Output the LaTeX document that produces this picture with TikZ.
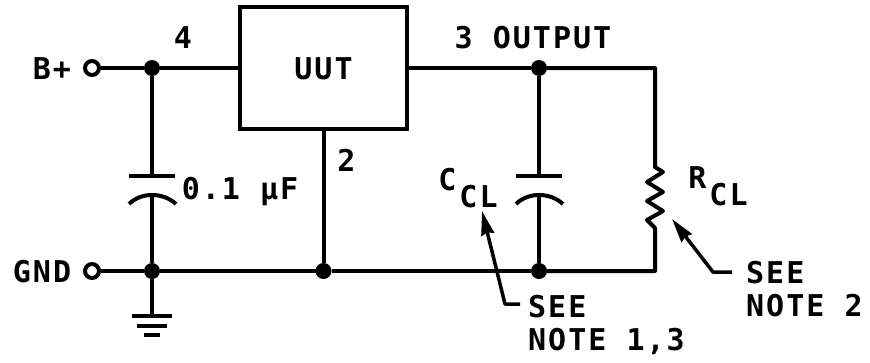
\documentclass[tikz,border=0pt]{standalone}
\usepackage{fontspec}
\setmonofont[LetterSpace=6.7]{DejaVu Sans Mono}
\usetikzlibrary{positioning,arrows.meta}
\tikzset{
  wire/.style={line width=4pt,line join=round},
  pointer/.style={line width=3.5pt,line join=round,-{Stealth[length=24pt,width=13pt,inset=2pt]}},
  term/.style={circle,draw,fill=white,line width=4pt,minimum size=14pt,inner sep=0pt},
  dot/.style={circle,fill=black,minimum size=16pt,inner sep=0pt,outer sep=0pt},
  lbl/.style={font=\fontsize{30pt}{33pt}\selectfont\ttfamily\bfseries,inner sep=0pt,text height=22pt,text depth=0pt},
  sublbl/.style={lbl,text depth=17pt},
  note/.style={font=\fontsize{30pt}{33pt}\selectfont\ttfamily\bfseries,inner sep=0pt,align=left,anchor=north west},
  box/.style={rectangle,draw,line width=4pt,minimum width=167pt,minimum height=122pt,inner sep=0pt}
}
\newcommand{\lowered}[1]{\raisebox{-17pt}{\kern3pt #1}}

\begin{document}
\begin{tikzpicture}[x=1pt,y=-1pt,on grid]
   \useasboundingbox (0,0) rectangle (870,362);
   \node[term] (bplus) at (92,68) {};
   \node[term] (gnd) [below=203pt of bplus] {};
   \node[dot] (j1) [right=60pt of bplus] {};
   \node[dot] (j2) [right=60pt of gnd] {};
   \node[box,lbl] (uut) [right=171.5pt of j1] {UUT};
   \node[dot] (j3) [right=171.5pt of j2] {};
   \node[dot] (j4) [right=215.5pt of uut] {};
   \node[dot] (j5) [right=215.5pt of j3] {};
   \coordinate[right=116pt of j4] (tr);
   \coordinate[right=116pt of j5] (br);
   % capacitors
   \coordinate[below=108pt of j1] (c1a);
   \coordinate[below=125pt of j1] (c1b);
   \coordinate[below=108pt of j4] (c2a);
   \coordinate[below=125pt of j4] (c2b);
   % resistor
   \coordinate[below=99pt of tr] (r1);
   \coordinate[above=43pt of br] (r2);
   % ground
   \coordinate[below=45pt of j2] (g1);
   \coordinate[below=55pt of j2] (g2);
   \coordinate[below=64pt of j2] (g3);
   \path[wire]
    (bplus) edge (j1)
    (j1)    edge (uut)
    (j1)    edge (c1a)
    (c1b)   edge (j2)
    (gnd)   edge (j2)
    (j2)    edge (j3)
    (j3)    edge (j5)
    (j2)    edge (g1)
    (uut)   edge (j3)
    (uut)   edge (j4)
    (j4)    edge (c2a)
    (c2b)   edge (j5)
    ;
   \draw[wire] (j4) -- (tr) -- (r1) -- ++(8,5) -- ++(-16,10) -- ++(16,10) -- ++(-16,9)
     -- ++(16,10) -- ++(-16,9) -- (r2) -- (br) -- (j5);
   \draw[wire] ([xshift=-23pt]c1a) -- ([xshift=23pt]c1a);
   \draw[wire] ([shift={(-23pt,-11pt)}]c1b) .. controls ([shift={(-11pt,1pt)}]c1b) and ([shift={(11pt,1pt)}]c1b) .. ([shift={(24pt,-11pt)}]c1b);
   \draw[wire] ([xshift=-23pt]c2a) -- ([xshift=23pt]c2a);
   \draw[wire] ([shift={(-23pt,-11pt)}]c2b) .. controls ([shift={(-11pt,1pt)}]c2b) and ([shift={(11pt,1pt)}]c2b) .. ([shift={(24pt,-11pt)}]c2b);
   \draw[wire] ([xshift=-20pt]g1) -- ([xshift=20pt]g1);
   \draw[wire] ([xshift=-15pt]g2) -- ([xshift=15pt]g2);
   \draw[wire] ([xshift=-8pt]g3) -- ([xshift=8pt]g3);
   % labels
   \node[lbl] (lbplus) [left=40pt of bplus] {B+};
   \node[lbl] (lgnd) [left=50pt of gnd] {GND};
   \node[lbl] (pin4) [above right=31pt and 31pt of j1] {4};
   \node[lbl] (pin2) [below right=92pt and 23pt of uut] {2};
   \node[lbl] (pin3) [above left=31pt and 6pt of j4] {3 OUTPUT};
   \node[lbl] (cval) [below right=12pt and 88pt of c1a,anchor=center] {0.1 µF};
   \node[sublbl] (ccl) [below left=12pt and 71pt of c2a,anchor=center] {C\lowered{CL}};
   \node[sublbl] (rcl) [below right=19pt and 63pt of r1,anchor=center] {R\lowered{CL}};
   \node[note] (note1) at (528,295) {SEE\\NOTE 1,3};
   \node[note] (note2) at (746,261) {SEE\\NOTE 2};
   % pointers
   \coordinate (p1a) at (520,304);
   \coordinate (p1b) at (505,304);
   \coordinate (p1c) at (482,211);
   \coordinate (p2a) at (732,272);
   \coordinate (p2b) at (713,272);
   \coordinate (p2c) at (672,219);
   \draw[pointer] (p1a) -- (p1b) -- (p1c);
   \draw[pointer] (p2a) -- (p2b) -- (p2c);
\end{tikzpicture}
\end{document}
